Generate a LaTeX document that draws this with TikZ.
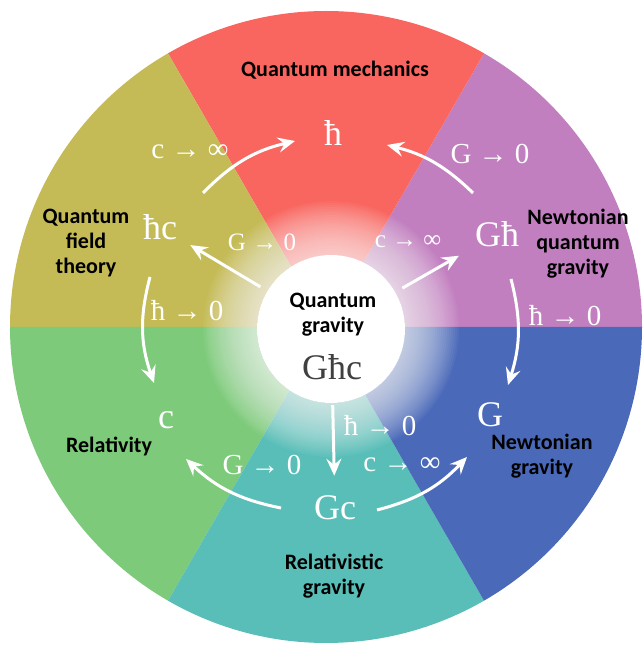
\documentclass[tikz,border=0pt]{standalone}
\usepackage{fontspec}
\setmainfont{Carlito}
\newfontfamily\symfont{Liberation Serif}
\usetikzlibrary{arrows.meta}

\definecolor{nqgpurple}{HTML}{C27FC0}
\definecolor{qmred}{HTML}{F9655F}
\definecolor{qftolive}{HTML}{C4BB56}
\definecolor{relgreen}{HTML}{7DCA7A}
\definecolor{rgteal}{HTML}{59BEB8}
\definecolor{ngblue}{HTML}{4A69B9}

\begin{document}
\begin{tikzpicture}[x=1pt, y=1pt, >={Stealth[length=17pt, width=15pt, inset=6pt]},
	sector/.style={font=\fontsize{22}{25}\selectfont\bfseries, align=center, text=black},
	state/.style={font=\symfont\fontsize{36}{36}\selectfont, text=white, inner sep=2pt},
	limit/.style={font=\symfont\fontsize{29}{29}\selectfont, text=white, inner sep=1pt},
	flow/.style={->, white, line width=3pt}]
	\useasboundingbox (0,0) rectangle (642,647);
	% colour wheel, one wedge per theory
	\foreach \a/\col in {0/nqgpurple, 60/qmred, 120/qftolive, 180/relgreen, 240/rgteal, 300/ngblue}
		\fill[\col] (326,320) -- ++(\a:316) arc[start angle=\a, end angle=\a+60, radius=316] -- cycle;
	% white centre and its glow
	\node[circle, fill=white, minimum size=148pt, inner sep=0pt] (qg) at (331,318) {};
	\foreach \r in {76,78,...,128}
		\fill[white, opacity=0.045] (qg.center) circle (\r);
	\node[sector] (qgl) at (333,332) {Quantum\\gravity};
	\node[state, text=black!75] (ghc) at (332,280) {Għc};

	\node[sector] (qm) at (335,577) {Quantum mechanics};
	\node[sector] (qft) at (86,404) {Quantum\\field\\theory};
	\node[sector] (nqg) at (578,403) {Newtonian\\quantum\\gravity};
	\node[sector] (rel) at (109,201) {Relativity};
	\node[sector] (ng) at (542,191) {Newtonian\\gravity};
	\node[sector] (rg) at (334,71) {Relativistic\\gravity};

	\node[state] (hb) at (333,514) {ħ};
	\node[state] (hc) at (160,420) {ħc};
	\node[state] (gh) at (497,413) {Għ};
	\node[state] (cc) at (166,227) {c};
	\node[state] (gg) at (490,232) {G};
	\node[state] (gc) at (335,139) {Gc};

	\node[limit] (qmc) at (190,495) {c → ∞};
	\node[limit] (qmg) at (490,493) {G → 0};
	\node[limit, font=\symfont\fontsize{25}{25}\selectfont] (hcg) at (262,405) {G → 0};
	\node[limit, font=\symfont\fontsize{25}{25}\selectfont] (ghinf) at (408,405) {c → ∞};
	\node[limit] (relh) at (187,336) {ħ → 0};
	\node[limit] (ngh) at (565,331) {ħ → 0};
	\node[limit] (gch) at (380,221) {ħ → 0};
	\node[limit] (relg) at (262,182) {G → 0};
	\node[limit] (ngc) at (402,182) {c → ∞};

	% ends of the curved arrows
	\coordinate (hcA) at (203,454);
	\coordinate (hbL) at (295,506);
	\coordinate (ghA) at (473,454);
	\coordinate (hbR) at (387,502);
	\coordinate (hcB) at (150,370);
	\coordinate (ccT) at (154,264);
	\coordinate (ghB) at (511,368);
	\coordinate (ggT) at (508,262);
	\coordinate (gcL) at (281,139);
	\coordinate (ccB) at (186,188);
	\coordinate (gcR) at (377,137);
	\coordinate (ggB) at (467,190);

	\draw[flow] (hcA) to[bend left=16] (hbL);
	\draw[flow] (ghA) to[bend right=15] (hbR);
	\draw[flow] (hcB) to[bend right=17] (ccT);
	\draw[flow] (ghB) to[bend left=16] (ggT);
	\draw[flow] (gcL) to[bend left=16] (ccB);
	\draw[flow] (gcR) to[bend right=16] (ggB);
	\draw[flow, shorten <=8pt, shorten >=13pt] (qg) -- (hc);
	\draw[flow, shorten <=8pt, shorten >=16pt] (qg) -- (gh);
	\draw[flow, shorten <=2pt, shorten >=18pt] (qg) -- (gc);
\end{tikzpicture}
\end{document}
